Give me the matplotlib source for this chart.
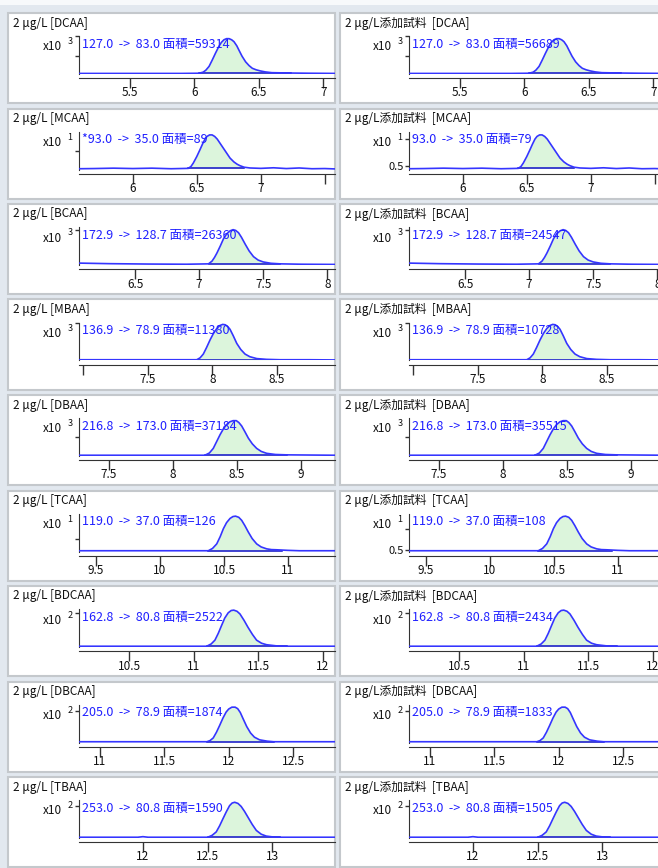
import matplotlib
matplotlib.use("Agg")
import matplotlib.pyplot as plt
from matplotlib.patches import Rectangle
import numpy as np

plt.rcParams['font.family'] = ['Noto Sans CJK JP', 'DejaVu Sans']

# compounds, MRM transitions and integrated peak areas
compounds = ['DCAA', 'MCAA', 'BCAA', 'MBAA', 'DBAA', 'TCAA', 'BDCAA', 'DBCAA', 'TBAA']
transitions = ['127.0  ->  83.0', '93.0  ->  35.0', '172.9  ->  128.7', '136.9  ->  78.9',
               '216.8  ->  173.0', '119.0  ->  37.0', '162.8  ->  80.8', '205.0  ->  78.9',
               '253.0  ->  80.8']
std_prefix = ['', '*', '', '', '', '', '', '', '']
areas_std = [59314, 89, 26360, 11380, 37184, 126, 2522, 1874, 1590]
areas_spiked = [56689, 79, 24547, 10728, 35515, 108, 2434, 1833, 1505]
exponents = [3, 1, 3, 3, 3, 1, 2, 2, 2]
sample_names = ['2 μg/L', '2 μg/L添加試料 ']

# retention-time window of each trace (min)
x_ranges = [(5.108, 7.09), (5.58, 7.58), (6.0625, 8.06), (6.967, 8.95), (7.266, 9.266),
            (9.367, 11.367), (10.11, 12.095), (10.837, 12.826), (11.505, 13.486)]
x_ticks = [[5.5, 6, 6.5, 7], [6, 6.5, 7, 7.5], [6.5, 7, 7.5, 8], [7, 7.5, 8, 8.5],
           [7.5, 8, 8.5, 9], [9.5, 10, 10.5, 11], [10.5, 11, 11.5, 12],
           [11, 11.5, 12, 12.5], [12, 12.5, 13]]
x_tick_labels = [['5.5', '6', '6.5', '7'], ['6', '6.5', '7', ''], ['6.5', '7', '7.5', '8'],
                 ['', '7.5', '8', '8.5'], ['7.5', '8', '8.5', '9'], ['9.5', '10', '10.5', '11'],
                 ['10.5', '11', '11.5', '12'], ['11', '11.5', '12', '12.5'], ['12', '12.5', '13']]

# y ticks (relative response) for the standard and the spiked sample
y_ticks_std = [[1.0, 0.47], [0.48], [0.93], [0.98], [0.5], [0.34], [0.9], [0.83], [0.83]]
y_labels_std = [['', ''], [''], [''], [''], [''], [''], [''], [''], ['']]
y_ticks_spiked = [[1.0, 0.47], [0.8, 0.09], [0.93], [0.98], [0.5], [0.6, 0.05], [0.9], [0.83], [0.83]]
y_labels_spiked = [['', ''], ['', '0.5'], [''], [''], [''], ['', '0.5'], [''], [''], ['']]

# integration start / end (min)
peak_windows = [(6.04, 6.75), (6.434, 6.87), (7.073, 7.633), (7.879, 8.525), (8.25, 8.89),
                (10.377, 10.95), (11.10, 11.72), (11.83, 12.35), (12.502, 13.057)]

# chromatogram traces: time (min) and relative response
dcaa_t = [5.10, 5.5, 5.9, 6.04, 6.07, 6.09, 6.115, 6.14, 6.165, 6.19, 6.21, 6.23, 6.25, 6.27,
          6.29, 6.308, 6.33, 6.346, 6.37, 6.398, 6.425, 6.45, 6.48, 6.513, 6.55, 6.6, 6.75,
          6.885, 7.1]
dcaa_y = [0.015, 0.015, 0.015, 0.02, 0.05, 0.1, 0.2, 0.37, 0.55, 0.72, 0.83, 0.9, 0.93, 0.93,
          0.9, 0.85, 0.74, 0.63, 0.47, 0.32, 0.22, 0.15, 0.11, 0.08, 0.055, 0.035, 0.025,
          0.02, 0.015]
mcaa_t = [5.58, 5.7, 5.85, 6.0, 6.15, 6.3, 6.434, 6.455, 6.473, 6.5, 6.525, 6.545, 6.564,
          6.58, 6.6, 6.62, 6.64, 6.66, 6.68, 6.7, 6.72, 6.74, 6.76, 6.79, 6.815, 6.838, 6.87,
          6.916, 7.0, 7.1, 7.2, 7.3, 7.4, 7.5, 7.58]
mcaa_y = [0.02, 0.025, 0.035, 0.025, 0.035, 0.02, 0.03, 0.08, 0.17, 0.34, 0.52, 0.67, 0.8,
          0.87, 0.91, 0.91, 0.87, 0.8, 0.70, 0.6, 0.5, 0.4, 0.30, 0.2, 0.14, 0.10, 0.06,
          0.04, 0.03, 0.045, 0.025, 0.04, 0.02, 0.025, 0.015]
bcaa_t = [6.06, 6.3, 6.6, 6.9, 7.073, 7.1, 7.12, 7.138, 7.165, 7.19, 7.215, 7.242, 7.265,
          7.285, 7.307, 7.33, 7.359, 7.39, 7.424, 7.46, 7.5, 7.56, 7.633, 7.8, 8.06]
bcaa_y = [0.05, 0.035, 0.025, 0.02, 0.03, 0.1, 0.2, 0.31, 0.5, 0.69, 0.82, 0.9, 0.93,
          0.91, 0.85, 0.73, 0.55, 0.37, 0.22, 0.13, 0.08, 0.045, 0.03, 0.02, 0.015]
mbaa_t = [6.967, 7.3, 7.6, 7.879, 7.905, 7.93, 7.955, 7.982, 8.008, 8.034, 8.058, 8.08, 8.1,
          8.12, 8.137, 8.162, 8.189, 8.22, 8.253, 8.29, 8.344, 8.42, 8.525, 8.75, 8.95]
mbaa_y = [0.02, 0.02, 0.02, 0.02, 0.07, 0.17, 0.34, 0.54, 0.71, 0.84, 0.92, 0.95, 0.94,
          0.89, 0.82, 0.65, 0.45, 0.29, 0.17, 0.1, 0.05, 0.03, 0.02, 0.02, 0.015]
dbaa_t = [7.266, 7.6, 8.0, 8.25, 8.285, 8.315, 8.34, 8.368, 8.395, 8.42, 8.445, 8.47, 8.495,
          8.515, 8.537, 8.562, 8.589, 8.62, 8.654, 8.69, 8.732, 8.8, 8.89, 9.266]
dbaa_y = [0.02, 0.02, 0.02, 0.02, 0.08, 0.2, 0.37, 0.56, 0.72, 0.83, 0.9, 0.93, 0.93,
          0.88, 0.79, 0.64, 0.47, 0.32, 0.2, 0.12, 0.07, 0.04, 0.03, 0.02]
tcaa_t = [9.367, 9.7, 10.0, 10.377, 10.41, 10.443, 10.47, 10.495, 10.52, 10.547, 10.57,
          10.59, 10.615, 10.638, 10.663, 10.69, 10.72, 10.755, 10.79, 10.833, 10.87, 10.911,
          11.0, 11.09, 11.367]
tcaa_y = [0.02, 0.02, 0.02, 0.02, 0.08, 0.2, 0.39, 0.6, 0.76, 0.87, 0.92,
          0.93, 0.9, 0.82, 0.68, 0.51, 0.34, 0.2, 0.12, 0.07, 0.05, 0.045,
          0.03, 0.02, 0.02]
bdcaa_t = [10.11, 10.5, 10.9, 11.10, 11.135, 11.164, 11.19, 11.216, 11.24, 11.267, 11.29,
           11.31, 11.335, 11.358, 11.39, 11.42, 11.455, 11.487, 11.525, 11.564, 11.64, 11.72,
           12.095]
bdcaa_y = [0.02, 0.02, 0.02, 0.02, 0.08, 0.18, 0.36, 0.57, 0.76, 0.9, 0.96,
           0.97, 0.94, 0.87, 0.7, 0.52, 0.33, 0.18, 0.1, 0.06, 0.03, 0.02,
           0.02]
dbcaa_t = [10.837, 11.2, 11.6, 11.83, 11.855, 11.88, 11.905, 11.93, 11.955, 11.98, 12.0,
           12.025, 12.05, 12.07, 12.09, 12.11, 12.14, 12.17, 12.2, 12.24, 12.3, 12.35, 12.826]
dbcaa_y = [0.02, 0.02, 0.02, 0.02, 0.05, 0.12, 0.27, 0.45, 0.64, 0.8, 0.88,
           0.93, 0.93, 0.89, 0.79, 0.64, 0.42, 0.25, 0.14, 0.07, 0.035, 0.02, 0.02]
tbaa_t = [11.505, 11.8, 11.96, 12.0, 12.04, 12.3, 12.502, 12.535, 12.567, 12.593, 12.618,
          12.645, 12.67, 12.69, 12.71, 12.735, 12.76, 12.786, 12.812, 12.845, 12.877, 12.915,
          12.954, 13.0, 13.057, 13.486]
tbaa_y = [0.02, 0.02, 0.02, 0.035, 0.02, 0.02, 0.02, 0.07, 0.16, 0.32, 0.5,
          0.69, 0.85, 0.92, 0.94, 0.91, 0.83, 0.7, 0.55, 0.36, 0.2, 0.1,
          0.05, 0.03, 0.02, 0.02]

traces = [(dcaa_t, dcaa_y), (mcaa_t, mcaa_y), (bcaa_t, bcaa_y), (mbaa_t, mbaa_y),
          (dbaa_t, dbaa_y), (tcaa_t, tcaa_y), (bdcaa_t, bdcaa_y), (dbcaa_t, dbcaa_y),
          (tbaa_t, tbaa_y)]

W, H = 658, 868
fig = plt.figure(figsize=(W / 100, H / 100), dpi=100)
fig.patch.set_facecolor('#e2e8ef')
fig.add_artist(Rectangle((0, 1 - 5 / H), 1, 5 / H, transform=fig.transFigure,
                         facecolor='#f7f9fb', edgecolor='none', zorder=0))


def fx(x):
    return x / W


def fy(y):
    return 1 - y / H


panel_left = [8, 340]
axes_left = [79, 409]
row_pitch = 95.5
trace_color = '#3535ff'
fill_color = '#dcf5dc'

for i, name in enumerate(compounds):
    top = 13 + i * row_pitch
    t = np.array(traces[i][0])
    y = np.array(traces[i][1])
    t0, t1 = peak_windows[i]
    for j in range(2):
        # panel frame
        fig.add_artist(Rectangle((fx(panel_left[j]), fy(top + 90)), fx(327), 90 / H,
                                 transform=fig.transFigure, facecolor='white',
                                 edgecolor='#c4c8cc', lw=1.5, zorder=0))
        fig.text(fx(panel_left[j] + 5), fy(top + 10), f'{sample_names[j]} [{name}]',
                 fontsize=8.5, va='center', ha='left', color='#111111')

        ax_top = top + 23
        ax = fig.add_axes([fx(axes_left[j]), fy(ax_top + 38), fx(256), 38 / H])
        ax.patch.set_alpha(0)

        in_peak = (t >= t0) & (t <= t1)
        base = np.interp(t0, t, y)
        ax.fill_between(t, base, y, where=in_peak, color=fill_color, lw=0, zorder=1)
        ax.plot([t0, t1], [base, base], color='#1010c8', lw=1.1, zorder=2)
        ax.plot(t, y, color=trace_color, lw=1.2, zorder=3, solid_joinstyle='round')

        ax.set_xlim(*x_ranges[i])
        ax.set_ylim(0, 1.0)
        ax.set_xticks(x_ticks[i])
        ax.set_xticklabels(x_tick_labels[i])
        if j == 0:
            ax.set_yticks(y_ticks_std[i])
            ax.set_yticklabels(y_labels_std[i])
        else:
            ax.set_yticks(y_ticks_spiked[i])
            ax.set_yticklabels(y_labels_spiked[i])

        for side in ('top', 'right'):
            ax.spines[side].set_visible(False)
        ax.spines['bottom'].set_position(('outward', 3))
        ax.spines['left'].set_color('#333333')
        ax.spines['bottom'].set_color('#333333')
        ax.tick_params(axis='x', length=7, width=1, pad=-1, labelsize=8.5,
                       colors='#333333', labelcolor='#111111')
        ax.tick_params(axis='y', length=3, width=1, pad=1, labelsize=8,
                       colors='#333333', labelcolor='#111111')

        # x10^n scale label
        fig.text(fx(axes_left[j] - 17), fy(ax_top + 11), 'x10', fontsize=8.5,
                 ha='right', va='center', color='#111111')
        fig.text(fx(axes_left[j] - 9), fy(ax_top + 6), str(exponents[i]), fontsize=6.5,
                 ha='center', va='center', color='#111111')

        if j == 0:
            label = f'{std_prefix[i]}{transitions[i]} 面積={areas_std[i]}'
        else:
            label = f'{transitions[i]} 面積={areas_spiked[i]}'
        fig.text(fx(axes_left[j] + 3), fy(ax_top + 8), label, fontsize=9,
                 ha='left', va='center', color='#2020ff', zorder=5)

fig.savefig('out.png', dpi=100, facecolor=fig.get_facecolor())
